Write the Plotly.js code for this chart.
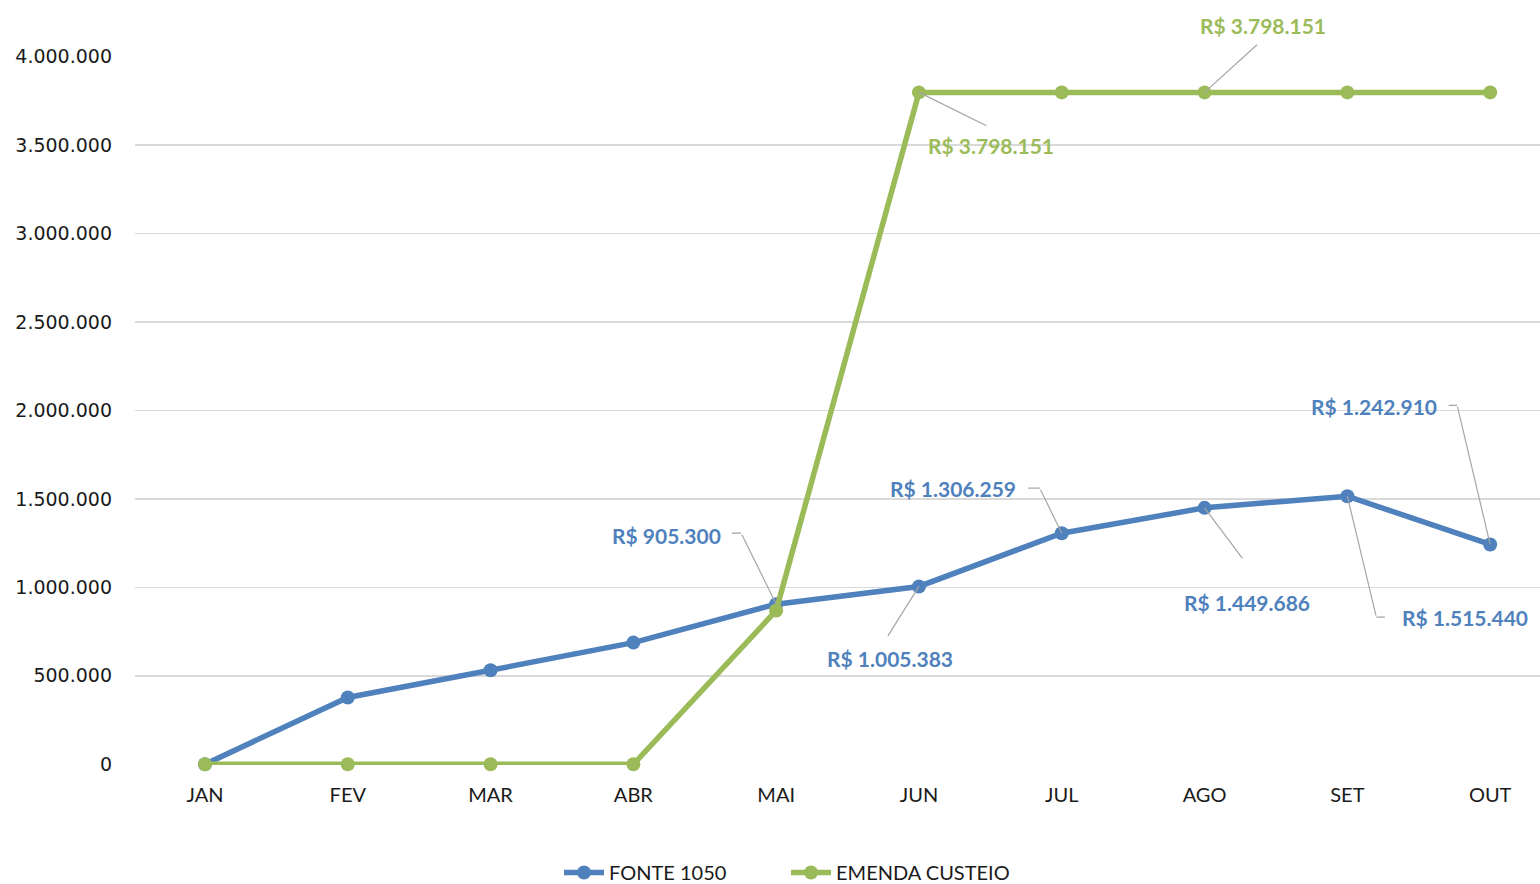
<!DOCTYPE html>
<html>
<head>
<meta charset="utf-8">
<script src="https://cdn.plot.ly/plotly-3.0.1.min.js"></script>
<style>
  html, body { margin: 0; padding: 0; background: #fff; }
  #chart { width: 1540px; height: 884px; }
</style>
</head>
<body>
<div id="chart"></div>
<script>
// ---- data ----
const months = ["JAN", "FEV", "MAR", "ABR", "MAI", "JUN", "JUL", "AGO", "SET", "OUT"];
const fonte1050 = [0, 378000, 532000, 688000, 905300, 1005383, 1306259, 1449686, 1515440, 1242910];
const emendaCusteio = [0, 0, 0, 0, 869000, 3798151, 3798151, 3798151, 3798151, 3798151];
const seriesNames = ["FONTE 1050", "EMENDA CUSTEIO"];
const yTickVals = [0, 500000, 1000000, 1500000, 2000000, 2500000, 3000000, 3500000, 4000000];

// ---- styles ----
const BLUE = "#4F81BD";
const GREEN = "#9BBB59";
const LEADER = "#A6A6A6";

function fmtBR(v) {
  const s = Math.round(v).toString();
  return s.replace(/\B(?=(\d{3})+(?!\d))/g, ".");
}

const x = months.map((m, i) => i);

const traces = [
  {
    x: x, y: fonte1050, name: seriesNames[0], type: "scatter", mode: "lines+markers",
    line: { color: BLUE, width: 5.5 }, marker: { color: BLUE, size: 14 }, cliponaxis: false
  },
  {
    x: x, y: emendaCusteio, name: seriesNames[1], type: "scatter", mode: "lines+markers",
    line: { color: GREEN, width: 5.5 }, marker: { color: GREEN, size: 14 }, cliponaxis: false
  }
];

// label placements (pixel offsets from the data point; dy positive = down)
const labelPlacement = [
  { s: 0, i: 4, text: [-110, -69], elbow: [-35, -71], hend: [-46, -71] },
  { s: 0, i: 5, text: [-29, 72], elbow: [-32, 51] },
  { s: 0, i: 6, text: [-109, -45], elbow: [-22, -45], hend: [-35, -45] },
  { s: 0, i: 7, text: [42, 95], elbow: [39, 52] },
  { s: 0, i: 8, text: [118, 121], elbow: [29, 121], hend: [39, 121] },
  { s: 0, i: 9, text: [-116, -138], elbow: [-33, -139], hend: [-43, -139] },
  { s: 1, i: 5, text: [72, 53], elbow: [69, 34] },
  { s: 1, i: 7, text: [58, -67], elbow: [54, -49] }
];

const seriesData = [fonte1050, emendaCusteio];
const seriesColor = [BLUE, GREEN];
const annotations = [];
labelPlacement.forEach(p => {
  const yv = seriesData[p.s][p.i];
  annotations.push({
    x: p.i, y: yv, xref: "x", yref: "y", text: "", showarrow: true,
    arrowhead: 0, arrowwidth: 1.2, arrowcolor: LEADER, standoff: 0, startstandoff: 0,
    ax: p.elbow[0], ay: p.elbow[1]
  });
  if (p.hend) {
    annotations.push({
      x: p.i, y: yv, xref: "x", yref: "y", text: "", showarrow: true,
      xshift: p.elbow[0], yshift: -p.elbow[1],
      arrowhead: 0, arrowwidth: 1.2, arrowcolor: LEADER, standoff: 0, startstandoff: 0,
      ax: p.hend[0] - p.elbow[0], ay: 0
    });
  }
  annotations.push({
    x: p.i, y: yv, xref: "x", yref: "y", showarrow: false,
    text: "<b>R$ " + fmtBR(yv) + "</b>",
    xshift: p.text[0], yshift: -p.text[1], xanchor: "center", yanchor: "middle",
    font: { family: "Lato, 'Open Sans', sans-serif", size: 21, color: seriesColor[p.s], weight: 700 }
  });
});

const layout = {
  width: 1540, height: 884,
  margin: { l: 135, r: 0, t: 56, b: 119, pad: 0 },
  paper_bgcolor: "#fff", plot_bgcolor: "#fff",
  showlegend: true,
  legend: {
    orientation: "h", xref: "container", yref: "container",
    x: 0.363, xanchor: "left", y: 0.013, yanchor: "middle",
    font: { family: "Lato, 'Open Sans', sans-serif", size: 20, color: "#1a1a1a" },
    itemwidth: 40, tracegroupgap: 0, entrywidth: 172
  },
  xaxis: {
    range: [-0.49, 9.349], tickvals: x, ticktext: months,
    showgrid: false, zeroline: false, showline: false, ticks: "",
    ticklabelstandoff: 16,
    tickfont: { family: "Lato, 'Open Sans', sans-serif", size: 20, color: "#1a1a1a" },
    fixedrange: true
  },
  yaxis: {
    range: [-4000, 4004000], tickvals: yTickVals, ticktext: yTickVals.map(fmtBR),
    showgrid: true, gridcolor: "#D9D9D9", gridwidth: 1.5,
    zeroline: false, showline: false, ticks: "",
    ticklabelstandoff: 22,
    tickfont: { family: "'DejaVu Sans', Verdana, sans-serif", size: 19, color: "#1a1a1a" },
    fixedrange: true
  },
  annotations: annotations,
  hovermode: false
};

Plotly.newPlot("chart", traces, layout, { staticPlot: true, displayModeBar: false });
</script>
</body>
</html>
